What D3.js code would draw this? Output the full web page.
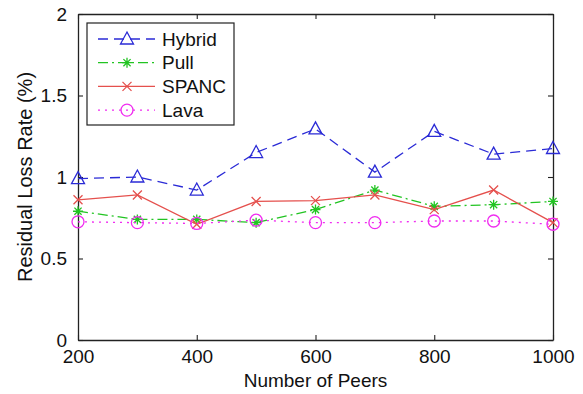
<!DOCTYPE html>
<html>
<head>
<meta charset="utf-8">
<script src="https://cdn.jsdelivr.net/npm/d3@7"></script>
<style>
  body { margin: 0; background: #fff; }
  svg { display: block; font-family: "Liberation Sans", Arial, sans-serif; }
</style>
</head>
<body>
<div id="chart"></div>
<script>
// data
const peers = [200, 300, 400, 500, 600, 700, 800, 900, 1000];
const hybrid = [0.99, 1.00, 0.92, 1.15, 1.295, 1.03, 1.28, 1.14, 1.175];
const pull = [0.79, 0.74, 0.74, 0.72, 0.80, 0.92, 0.82, 0.83, 0.85];
const spanc = [0.86, 0.89, 0.71, 0.85, 0.855, 0.89, 0.80, 0.92, 0.72];
const lava = [0.725, 0.72, 0.715, 0.735, 0.72, 0.72, 0.73, 0.73, 0.71];
const xTicks = [200, 400, 600, 800, 1000];
const yTicks = [0, 0.5, 1, 1.5, 2];

const series = [
  { name: "Hybrid", values: hybrid, color: "#2b2bd6", dash: "10,6", marker: "tri" },
  { name: "Pull", values: pull, color: "#22c422", dash: "10,4,2,4", marker: "star" },
  { name: "SPANC", values: spanc, color: "#e5504d", dash: null, marker: "x" },
  { name: "Lava", values: lava, color: "#f02cf0", dash: "2,5", marker: "o" }
];

const width = 583, height = 394;
const margin = { top: 14, right: 30, bottom: 54, left: 78 };

const svg = d3.select("#chart").append("svg")
  .attr("width", width)
  .attr("height", height);

svg.append("rect").attr("width", width).attr("height", height).attr("fill", "#fff");

const x = d3.scaleLinear().domain([200, 1000]).range([margin.left, width - margin.right]);
const y = d3.scaleLinear().domain([0, 2]).range([height - margin.bottom, margin.top]);

const fs = 19;

// axes box with inward ticks on all four sides
function styleAxis(g) {
  g.select(".domain").attr("stroke", "#222").attr("stroke-width", 1.3);
  g.selectAll(".tick line").attr("stroke", "#222").attr("stroke-width", 1.1);
  g.selectAll("text").attr("fill", "#111").style("font-size", fs + "px");
}

svg.append("g")
  .attr("transform", `translate(0,${y(0)})`)
  .call(d3.axisBottom(x).tickValues(xTicks).tickSizeInner(-5).tickSizeOuter(0).tickPadding(10).tickFormat(d3.format("d")))
  .call(styleAxis);

svg.append("g")
  .attr("transform", `translate(0,${y(2)})`)
  .call(d3.axisTop(x).tickValues(xTicks).tickSizeInner(-5).tickSizeOuter(0).tickFormat(""))
  .call(styleAxis);

svg.append("g")
  .attr("transform", `translate(${x(200)},0)`)
  .call(d3.axisLeft(y).tickValues(yTicks).tickSizeInner(-5).tickSizeOuter(0).tickPadding(11).tickFormat(d => d3.format("")(d)))
  .call(styleAxis);

svg.append("g")
  .attr("transform", `translate(${x(1000)},0)`)
  .call(d3.axisRight(y).tickValues(yTicks).tickSizeInner(-5).tickSizeOuter(0).tickFormat(""))
  .call(styleAxis);

// axis labels
svg.append("text")
  .attr("x", (x(200) + x(1000)) / 2)
  .attr("y", 387)
  .attr("text-anchor", "middle")
  .style("font-size", fs + "px")
  .attr("fill", "#111")
  .text("Number of Peers");

svg.append("text")
  .attr("transform", `translate(32,${(y(0) + y(2)) / 2}) rotate(-90)`)
  .attr("text-anchor", "middle")
  .style("font-size", "20px")
  .attr("fill", "#111")
  .text("Residual Loss Rate (%)");

// marker drawing
function drawMarker(g, type, color) {
  if (type === "tri") {
    g.append("path").attr("d", "M0,-7L6.5,5L-6.5,5Z")
      .attr("fill", "none").attr("stroke", color).attr("stroke-width", 1.3);
  } else if (type === "star") {
    const s = 5;
    g.append("path")
      .attr("d", `M${-s},0L${s},0M0,${-s}L0,${s}M${-s * 0.72},${-s * 0.72}L${s * 0.72},${s * 0.72}M${-s * 0.72},${s * 0.72}L${s * 0.72},${-s * 0.72}`)
      .attr("stroke", color).attr("stroke-width", 1.3);
  } else if (type === "x") {
    const s = 4.5;
    g.append("path").attr("d", `M${-s},${-s}L${s},${s}M${-s},${s}L${s},${-s}`)
      .attr("stroke", color).attr("stroke-width", 1.3);
  } else {
    g.append("circle").attr("r", 6)
      .attr("fill", "none").attr("stroke", color).attr("stroke-width", 1.3);
  }
}

const line = d3.line().x(d => x(d[0])).y(d => y(d[1]));

series.forEach(s => {
  const pts = peers.map((p, i) => [p, s.values[i]]);
  svg.append("path")
    .datum(pts)
    .attr("d", line)
    .attr("fill", "none")
    .attr("stroke", s.color)
    .attr("stroke-width", 1.3)
    .attr("stroke-dasharray", s.dash);
  pts.forEach(p => {
    const g = svg.append("g").attr("transform", `translate(${x(p[0])},${y(p[1])})`);
    drawMarker(g, s.marker, s.color);
  });
});

// legend
const legend = svg.append("g");
legend.append("rect")
  .attr("x", 87).attr("y", 23).attr("width", 147).attr("height", 102)
  .attr("fill", "#fff").attr("stroke", "#222").attr("stroke-width", 1.2);

series.forEach((s, i) => {
  const ly = 39 + i * 23.7;
  legend.append("line")
    .attr("x1", 98).attr("x2", 155).attr("y1", ly).attr("y2", ly)
    .attr("stroke", s.color).attr("stroke-width", 1.3)
    .attr("stroke-dasharray", s.dash);
  const g = legend.append("g").attr("transform", `translate(127,${ly})`);
  drawMarker(g, s.marker, s.color);
  legend.append("text")
    .attr("x", 162).attr("y", ly)
    .attr("dy", "0.35em")
    .style("font-size", "19px")
    .attr("fill", "#111")
    .text(s.name);
});
</script>
</body>
</html>
